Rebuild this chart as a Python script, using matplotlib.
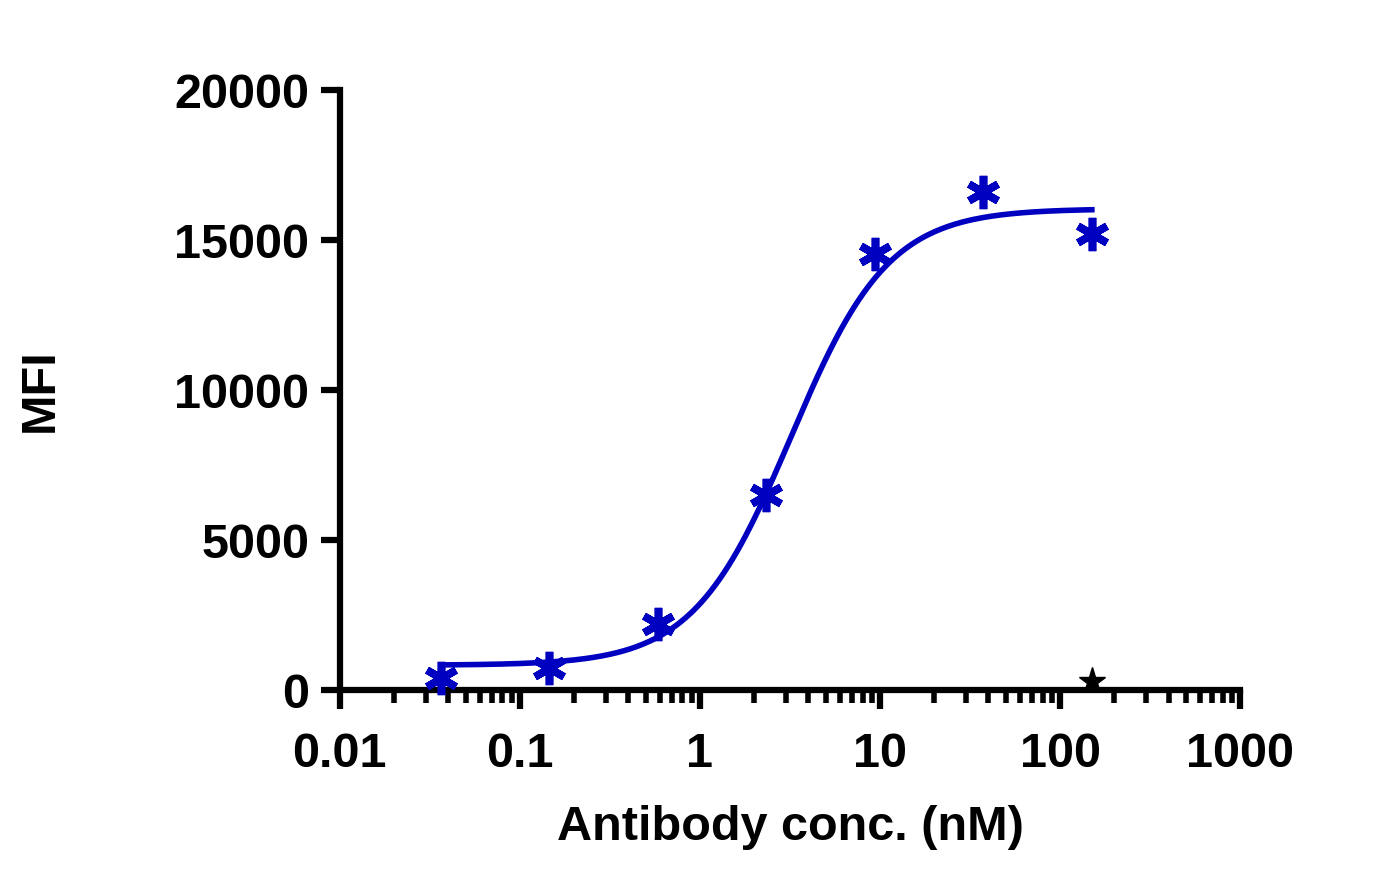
import numpy as np
import matplotlib.pyplot as plt

plt.rcParams['font.family'] = ['Liberation Sans', 'DejaVu Sans']
plt.rcParams['font.weight'] = 'bold'

conc = [0.0366, 0.146, 0.586, 2.34, 9.375, 37.5, 150]
mfi = [400, 750, 2200, 6500, 14550, 16600, 15200]
ctrl_conc = [150]
ctrl_mfi = [300]
# 4PL fit parameters: bottom, top, EC50, hill
fit_bottom, fit_top, fit_ec50, fit_hill = 830, 16050, 3.2, 1.6

fig = plt.figure(figsize=(13.92, 8.94), dpi=100)
ax = fig.add_axes([0.244, 0.228, 0.647, 0.671])

xs = np.logspace(np.log10(conc[0]), np.log10(conc[-1]), 300)
ys = fit_bottom + (fit_top - fit_bottom) / (1 + (fit_ec50 / xs) ** fit_hill)
ax.plot(xs, ys, color='#0000c0', lw=4, zorder=3)
ax.plot(conc, mfi, ls='none', marker=(6, 2, 0), ms=24, mew=5.5,
        mec='#0000c0', zorder=4, clip_on=False)
ax.plot(ctrl_conc, ctrl_mfi, ls='none', marker='*', ms=20, color='black',
        zorder=4, clip_on=False)
ax.axhline(0, color='black', lw=1.5, ls=(0, (3, 4)))

ax.set_xscale('log')
ax.set_xlim(0.01, 1000)
ax.set_ylim(0, 20000)
ax.set_yticks([0, 5000, 10000, 15000, 20000])
ax.set_xticks([0.01, 0.1, 1, 10, 100, 1000])
ax.set_xticklabels(['0.01', '0.1', '1', '10', '100', '1000'])

for s in ['top', 'right']:
    ax.spines[s].set_visible(False)
for s in ['left', 'bottom']:
    ax.spines[s].set_linewidth(4.5)
ax.tick_params(which='major', width=4.5, length=14, labelsize=35, pad=8)
ax.tick_params(axis='x', which='major', pad=16)
ax.tick_params(axis='x', which='minor', width=4, length=9)

ax.set_xlabel('Antibody conc. (nM)', fontsize=35, fontweight='bold', labelpad=20)
ax.set_ylabel('MFI', fontsize=35, fontweight='bold', labelpad=80)

fig.savefig('out.png', dpi=100)
